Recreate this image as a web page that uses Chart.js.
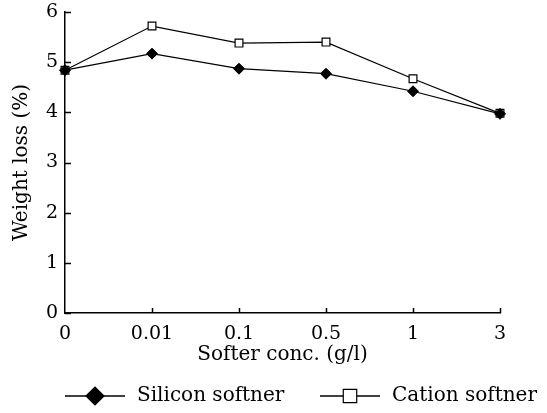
<!DOCTYPE html>
<html>
<head>
<meta charset="utf-8">
<script src="https://cdn.jsdelivr.net/npm/chart.js@4.4.0/dist/chart.umd.min.js"></script>
<style>
  html, body { margin: 0; padding: 0; background: #fff; }
  #wrap { width: 547px; height: 413px; }
</style>
</head>
<body>
<div id="wrap"><canvas id="c" width="547" height="413"></canvas></div>
<script>
// ---- data ----
const categories = ['0', '0.01', '0.1', '0.5', '1', '3'];
const siliconSoftner = [4.84, 5.17, 4.87, 4.77, 4.42, 3.97];
const cationSoftner = [4.84, 5.72, 5.38, 5.40, 4.67, 3.98];
const seriesNames = ['Silicon softner', 'Cation softner'];
const yTicks = [0, 1, 2, 3, 4, 5, 6];
const xTitle = 'Softer conc. (g/l)';
const yTitle = 'Weight loss (%)';

const FONT = 'DejaVu Serif';

// inward tick marks drawn from the scales' own tick positions
const inwardTicks = {
  id: 'inwardTicks',
  afterDatasetsDraw(chart) {
    const {ctx, scales: {x, y}} = chart;
    ctx.save();
    ctx.strokeStyle = '#000';
    ctx.lineWidth = 1.5;
    ctx.beginPath();
    y.ticks.forEach(t => {
      const py = Math.round(y.getPixelForValue(t.value)) + 0.5;
      ctx.moveTo(x.left, py); ctx.lineTo(x.left + 6, py);
    });
    x.ticks.forEach((t, i) => {
      if (i === 0) return;
      const px = Math.round(x.getPixelForValue(i)) + 0.5;
      ctx.moveTo(px, y.bottom); ctx.lineTo(px, y.bottom - 5);
    });
    ctx.stroke();
    ctx.restore();
  }
};

// legend drawn as "line-marker-line  label"
const lineLegend = {
  id: 'lineLegend',
  afterDraw(chart, args, opts) {
    const {ctx} = chart;
    ctx.save();
    chart.data.datasets.forEach((ds, i) => {
      const it = opts.items[i];
      ctx.strokeStyle = '#000';
      ctx.lineWidth = 1.5;
      ctx.beginPath();
      ctx.moveTo(it.x0, opts.y); ctx.lineTo(it.x1, opts.y);
      ctx.stroke();
      ctx.fillStyle = ds.pointBackgroundColor;
      ctx.strokeStyle = '#000';
      ctx.lineWidth = 1.2;
      Chart.helpers.drawPoint(ctx, {pointStyle: ds.pointStyle, radius: it.r, borderWidth: 1.2, rotation: 0},
        (it.x0 + it.x1) / 2, opts.y);
      ctx.fillStyle = '#000';
      ctx.font = opts.fontSize + 'px "' + FONT + '"';
      ctx.textBaseline = 'middle';
      ctx.textAlign = 'left';
      ctx.fillText(ds.label, it.tx, opts.y);
    });
    ctx.restore();
  }
};

new Chart(document.getElementById('c'), {
  type: 'line',
  data: {
    labels: categories,
    datasets: [
      {
        label: seriesNames[0],
        data: siliconSoftner,
        borderColor: '#000',
        borderWidth: 1.2,
        pointStyle: 'rectRot',
        pointRadius: 5.5,
        pointBackgroundColor: '#000',
        pointBorderColor: '#000',
        pointBorderWidth: 1,
        tension: 0,
        clip: false
      },
      {
        label: seriesNames[1],
        data: cationSoftner,
        borderColor: '#000',
        borderWidth: 1.2,
        pointStyle: 'rect',
        pointRadius: 5.5,
        pointBackgroundColor: '#fff',
        pointBorderColor: '#000',
        pointBorderWidth: 1.2,
        tension: 0,
        clip: false
      }
    ]
  },
  options: {
    responsive: false,
    animation: false,
    devicePixelRatio: 1,
    layout: { padding: { left: 10, right: 47, top: 12, bottom: 46 } },
    plugins: {
      legend: { display: false },
      tooltip: { enabled: false },
      lineLegend: {
        y: 396,
        fontSize: 20,
        items: [
          { x0: 65, x1: 125, r: 9, tx: 137 },
          { x0: 320, x1: 380, r: 9.5, tx: 392 }
        ]
      }
    },
    scales: {
      x: {
        type: 'category',
        offset: false,
        grid: { display: true, drawOnChartArea: false, drawTicks: false },
        border: { display: true, color: '#000', width: 1.5 },
        ticks: { color: '#000', padding: 10, maxRotation: 0, autoSkip: false,
                 font: { family: FONT, size: 19 } },
        title: { display: true, text: xTitle, color: '#000', padding: 0,
                 font: { family: FONT, size: 20 } },
        afterFit(s) { s.height = 54; s.paddingLeft = 0; s.paddingRight = 0; }
      },
      y: {
        type: 'linear',
        min: 0, max: 6,
        afterBuildTicks(s) { s.ticks = yTicks.map(v => ({ value: v })); },
        grid: { display: true, drawOnChartArea: false, drawTicks: false },
        border: { display: true, color: '#000', width: 1.5 },
        ticks: { color: '#000', padding: 7, font: { family: FONT, size: 19 } },
        title: { display: true, text: yTitle, color: '#000', padding: 0,
                 font: { family: FONT, size: 20 } },
        afterFit(s) { s.width = 55; s.paddingTop = 0; s.paddingBottom = 0; }
      }
    }
  },
  plugins: [inwardTicks, lineLegend]
});
</script>
</body>
</html>
